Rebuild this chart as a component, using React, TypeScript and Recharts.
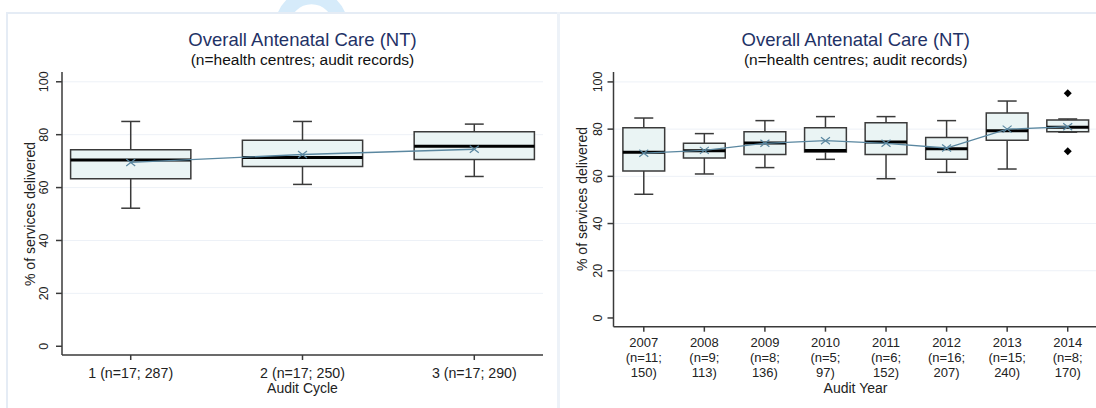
import React from "react";
import {
  ComposedChart,
  Line,
  XAxis,
  YAxis,
  CartesianGrid,
  ReferenceArea,
  ReferenceLine,
  ReferenceDot,
} from "recharts";

// Left panel: audit cycles
const cycleLabels = ["1 (n=17; 287)", "2 (n=17; 250)", "3 (n=17; 290)"];
const cycleMin = [52.2, 61.2, 64.2];
const cycleQ1 = [63.3, 68, 70.6];
const cycleMedian = [70.4, 71.4, 75.6];
const cycleQ3 = [74.3, 77.9, 81.1];
const cycleMax = [85, 85, 84];
const cycleMean = [69.5, 72.5, 74.5];

// Right panel: audit years
const years = ["2007", "2008", "2009", "2010", "2011", "2012", "2013", "2014"];
const yearCentres = ["(n=11;", "(n=9;", "(n=8;", "(n=5;", "(n=6;", "(n=16;", "(n=15;", "(n=8;"];
const yearRecords = ["150)", "113)", "136)", "97)", "152)", "207)", "240)", "170)"];
const yearMin = [52.4, 61, 63.7, 67.2, 59, 61.7, 63.1, 78.7];
const yearQ1 = [62.3, 67.8, 69.3, 70.3, 69.3, 67.2, 75.3, 78.9];
const yearMedian = [70.2, 70.8, 74.1, 70.9, 74.5, 71.7, 79.3, 80.8];
const yearQ3 = [80.6, 74, 78.9, 80.6, 82.7, 76.5, 86.8, 83.9];
const yearMax = [84.7, 78.1, 83.6, 85.3, 85.3, 83.6, 91.9, 84.3];
const yearMean = [69.8, 71, 74, 75.1, 74, 72, 80, 81];
const outlierYearIndex = [7, 7];
const outlierValues = [95.2, 70.6];

const yTicks = [0, 20, 40, 60, 80, 100];

const TITLE = "Overall Antenatal Care (NT)";
const SUBTITLE = "(n=health centres; audit records)";
const Y_TITLE = "% of services delivered";

const FONT = "'Liberation Sans', Arial, sans-serif";
const AXIS = "#3a3a3a";
const BOX_FILL = "#eaf4f4";
const MEAN_COLOR = "#5a87a0";
const GRID = "#edf1f7";

const cycleData = cycleMean.map((m, i) => ({ x: i + 1, mean: m }));
const yearData = yearMean.map((m, i) => ({ x: i + 1, mean: m }));

function boxes(
  prefix: string,
  min: number[],
  q1: number[],
  med: number[],
  q3: number[],
  max: number[],
  boxHalf: number,
  capHalf: number
) {
  const out: React.ReactNode[] = [];
  min.forEach((_, i) => {
    const x = i + 1;
    const line = { stroke: AXIS, strokeWidth: 1.5 };
    out.push(
      <ReferenceLine key={`${prefix}wu${i}`} segment={[{ x, y: q3[i] }, { x, y: max[i] }]} {...line} />,
      <ReferenceLine key={`${prefix}wl${i}`} segment={[{ x, y: min[i] }, { x, y: q1[i] }]} {...line} />,
      <ReferenceLine
        key={`${prefix}cu${i}`}
        segment={[{ x: x - capHalf, y: max[i] }, { x: x + capHalf, y: max[i] }]}
        {...line}
      />,
      <ReferenceLine
        key={`${prefix}cl${i}`}
        segment={[{ x: x - capHalf, y: min[i] }, { x: x + capHalf, y: min[i] }]}
        {...line}
      />,
      <ReferenceArea
        key={`${prefix}b${i}`}
        x1={x - boxHalf}
        x2={x + boxHalf}
        y1={q1[i]}
        y2={q3[i]}
        fill={BOX_FILL}
        fillOpacity={1}
        stroke={AXIS}
        strokeWidth={1.5}
      />,
      <ReferenceLine
        key={`${prefix}m${i}`}
        segment={[{ x: x - boxHalf, y: med[i] }, { x: x + boxHalf, y: med[i] }]}
        stroke="#000"
        strokeWidth={3}
      />
    );
  });
  return out;
}

function MeanMark(props: any) {
  const { cx, cy } = props;
  if (cx == null || cy == null) return null;
  return (
    <g>
      <line x1={cx - 4.5} y1={cy - 3.5} x2={cx + 4.5} y2={cy + 3.5} stroke={MEAN_COLOR} strokeWidth={1.2} />
      <line x1={cx - 4.5} y1={cy + 3.5} x2={cx + 4.5} y2={cy - 3.5} stroke={MEAN_COLOR} strokeWidth={1.2} />
    </g>
  );
}

function Diamond(props: any) {
  const { cx, cy } = props;
  return <polygon points={`${cx},${cy - 4} ${cx + 4},${cy} ${cx},${cy + 4} ${cx - 4},${cy}`} fill="#000" />;
}

function makeYTick(shift: number) {
  return (props: any) => {
    const { x, y, payload } = props;
    const bx = x - shift;
    return (
      <text
        x={bx}
        y={y}
        transform={`rotate(-90, ${bx}, ${y})`}
        textAnchor="middle"
        fontSize={12.5}
        fontFamily={FONT}
        fill="#222"
      >
        {payload.value}
      </text>
    );
  };
}

function CycleTick(props: any) {
  const { x, y, payload } = props;
  return (
    <text x={x} y={y + 18} textAnchor="middle" fontSize={14.2} fontFamily={FONT} fill="#222">
      {cycleLabels[payload.value - 1]}
    </text>
  );
}

// three stacked lines per year; kept tight like the original export
function YearTick(props: any) {
  const { x, y, payload } = props;
  const i = payload.value - 1;
  return (
    <text textAnchor="middle" fontSize={13} fontFamily={FONT} fill="#222">
      <tspan x={x} y={y + 15.6}>{years[i]}</tspan>
      <tspan x={x} y={y + 30.2}>{yearCentres[i]}</tspan>
      <tspan x={x} y={y + 44.8}>{yearRecords[i]}</tspan>
    </text>
  );
}

function Titles({ left, width }: { left: number; width: number }) {
  return (
    <>
      <div
        style={{
          position: "absolute",
          left,
          width,
          top: 29,
          textAlign: "center",
          fontSize: 18.5,
          lineHeight: "22px",
          color: "#1f3266",
          whiteSpace: "nowrap",
        }}
      >
        {TITLE}
      </div>
      <div
        style={{
          position: "absolute",
          left,
          width,
          top: 51,
          textAlign: "center",
          fontSize: 15.5,
          lineHeight: "18px",
          color: "#111",
          whiteSpace: "nowrap",
        }}
      >
        {SUBTITLE}
      </div>
    </>
  );
}

function AxisTitles({ cx, ylabelX, ylabelY, xTitle }: { cx: number; ylabelX: number; ylabelY: number; xTitle: string }) {
  return (
    <>
      <div
        style={{
          position: "absolute",
          left: ylabelX,
          top: ylabelY,
          transform: "translate(-50%, -50%) rotate(-90deg)",
          fontSize: 14,
          lineHeight: "16px",
          color: "#222",
          whiteSpace: "nowrap",
        }}
      >
        {Y_TITLE}
      </div>
      <div
        style={{
          position: "absolute",
          left: cx - 100,
          width: 200,
          top: 379.6,
          textAlign: "center",
          fontSize: 14,
          lineHeight: "16px",
          color: "#222",
        }}
      >
        {xTitle}
      </div>
    </>
  );
}

export default function App() {
  return (
    <div
      style={{
        position: "fixed",
        left: 0,
        top: 0,
        width: 1096,
        height: 408,
        overflow: "hidden",
        background: "#fff",
        fontFamily: FONT,
      }}
    >
      {/* faint page decoration above the frame */}
      <svg width={1096} height={12} style={{ position: "absolute", left: 0, top: 0 }}>
        <circle cx={311.5} cy={25.7} r={28.75} fill="none" stroke="#d6ebfa" strokeWidth={14.5} />
      </svg>
      <div style={{ position: "absolute", left: 6, top: 12, width: 1090, height: 1.5, background: "#e5ecf5" }} />
      <div style={{ position: "absolute", left: 6, top: 12, width: 1.5, height: 396, background: "#e5ecf5" }} />
      <div style={{ position: "absolute", left: 557, top: 12, width: 3, height: 396, background: "#edf2f8" }} />

      <div style={{ position: "absolute", left: 0, top: 0 }}>
        <ComposedChart width={557} height={408} data={cycleData} margin={{ top: 72, right: 14, bottom: 0, left: 0 }}>
          <CartesianGrid horizontal vertical={false} horizontalValues={[20, 40, 60, 80, 100]} stroke={GRID} />
          <XAxis
            type="number"
            dataKey="x"
            domain={[0.6, 3.4]}
            ticks={[1, 2, 3]}
            allowDataOverflow
            height={53}
            tickSize={5}
            tickMargin={0}
            stroke={AXIS}
            strokeWidth={1.5}
            tick={CycleTick}
          />
          <YAxis
            type="number"
            domain={[-3.3, 103.7]}
            ticks={yTicks}
            allowDataOverflow
            width={62}
            tickSize={6}
            tickMargin={0}
            stroke={AXIS}
            strokeWidth={1.5}
            tick={makeYTick(7.5)}
          />
          {boxes("c", cycleMin, cycleQ1, cycleMedian, cycleQ3, cycleMax, 0.35, 0.055)}
          <Line
            type="linear"
            dataKey="mean"
            stroke={MEAN_COLOR}
            strokeWidth={1.3}
            dot={<MeanMark />}
            activeDot={false}
            isAnimationActive={false}
          />
        </ComposedChart>
      </div>

      <div style={{ position: "absolute", left: 560, top: 0 }}>
        <ComposedChart width={540} height={408} data={yearData} margin={{ top: 72, right: 2, bottom: 0, left: 0 }}>
          <CartesianGrid horizontal vertical={false} horizontalValues={[20, 40, 60, 80, 100]} stroke={GRID} />
          <XAxis
            type="number"
            dataKey="x"
            domain={[0.5, 8.5]}
            ticks={[1, 2, 3, 4, 5, 6, 7, 8]}
            allowDataOverflow
            height={81.3}
            tickSize={5}
            tickMargin={0}
            stroke={AXIS}
            strokeWidth={1.5}
            tick={YearTick}
          />
          <YAxis
            type="number"
            domain={[-3.7, 104.2]}
            ticks={yTicks}
            allowDataOverflow
            width={53.5}
            tickSize={6}
            tickMargin={0}
            stroke={AXIS}
            strokeWidth={1.5}
            tick={makeYTick(5.8)}
          />
          {boxes("y", yearMin, yearQ1, yearMedian, yearQ3, yearMax, 0.345, 0.157)}
          {outlierValues.map((v, i) => (
            <ReferenceDot key={`o${i}`} x={outlierYearIndex[i] + 1} y={v} r={4} shape={<Diamond />} />
          ))}
          <Line
            type="linear"
            dataKey="mean"
            stroke={MEAN_COLOR}
            strokeWidth={1.3}
            dot={<MeanMark />}
            activeDot={false}
            isAnimationActive={false}
          />
        </ComposedChart>
      </div>

      <Titles left={62} width={481} />
      <Titles left={613.5} width={484.5} />
      <AxisTitles cx={302.5} ylabelX={30.1} ylabelY={213.5} xTitle="Audit Cycle" />
      <AxisTitles cx={855.5} ylabelX={582.1} ylabelY={199.4} xTitle="Audit Year" />
    </div>
  );
}
